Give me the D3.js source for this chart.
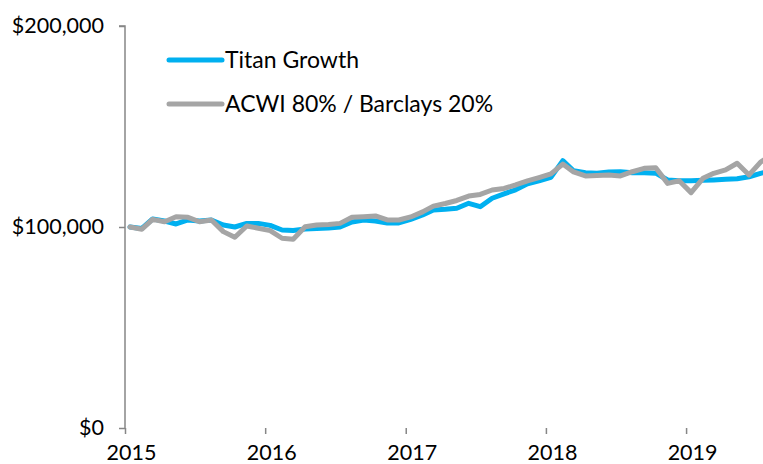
<!DOCTYPE html>
<html>
<head>
<meta charset="utf-8">
<script src="https://cdn.jsdelivr.net/npm/d3@7"></script>
<style>
  html, body { margin: 0; padding: 0; background: #fff; }
  svg { display: block; }
</style>
</head>
<body>
<svg id="chart" width="763" height="464"></svg>
<script>
// ---- data ----
const months = [
  "2015-01","2015-02","2015-03","2015-04","2015-05","2015-06","2015-07","2015-08","2015-09","2015-10","2015-11","2015-12",
  "2016-01","2016-02","2016-03","2016-04","2016-05","2016-06","2016-07","2016-08","2016-09","2016-10","2016-11","2016-12",
  "2017-01","2017-02","2017-03","2017-04","2017-05","2017-06","2017-07","2017-08","2017-09","2017-10","2017-11","2017-12",
  "2018-01","2018-02","2018-03","2018-04","2018-05","2018-06","2018-07","2018-08","2018-09","2018-10","2018-11","2018-12",
  "2019-01","2019-02","2019-03","2019-04","2019-05","2019-06","2019-07","2019-08"
];
const titanGrowth = [
  100000, 99300, 104000, 103000, 101500, 103500, 103000, 103500, 101000, 100000, 101800, 101800,
  100800, 98500, 98300, 99000, 99200, 99500, 100000, 102500, 103500, 103000, 102000, 102000,
  103800, 106000, 108500, 108800, 109300, 111800, 110100, 114300, 116500, 118500, 121500, 123000,
  124700, 133000, 128000, 127000, 126700, 127400, 127500, 127000, 127000, 126800, 123400, 123000,
  123000, 123200, 123400, 123700, 124000, 125000, 126700, 128000
];
const acwiBarclays = [
  100000, 98900, 103800, 102600, 105100, 104800, 102600, 103500, 97700, 94900, 100500, 99400,
  98200, 94400, 93900, 100100, 101000, 101300, 101800, 104800, 105100, 105500, 103500, 103500,
  105000, 107500, 110400, 111700, 113200, 115400, 116200, 118400, 119200, 120900, 122900, 124600,
  126400, 131300, 127400, 125400, 125600, 125900, 125400, 127500, 129200, 129500, 121700, 123000,
  117100, 124200, 126700, 128400, 131700, 125900, 132300, 136000
];
const seriesNames = ["Titan Growth", "ACWI 80% / Barclays 20%"];
const seriesColors = ["#00B0F0", "#A5A5A5"];
const yTicks = [0, 100000, 200000];
const xTickYears = [2015, 2016, 2017, 2018, 2019];

// ---- layout ----
const W = 763, H = 464;
const mLeft = 125, mTop = 26, mBottom = 428;
const pxPerYear = 140.25;
const font = "Lato, 'Open Sans', sans-serif";

const svg = d3.select("#chart");
const parse = d3.timeParse("%Y-%m");
const dates = months.map(m => d3.timeDay.offset(parse(m), 13));

const x = d3.scaleTime()
  .domain([new Date(2015, 0, 1), new Date(2020, 0, 1)])
  .range([mLeft, mLeft + 5 * pxPerYear]);
const y = d3.scaleLinear().domain([0, 200000]).range([mBottom, mTop]);

const defs = svg.append("defs");
defs.append("clipPath").attr("id", "clip")
  .append("rect").attr("x", 0).attr("y", 0).attr("width", W).attr("height", H);
const sh = defs.append("filter").attr("id", "shadow")
  .attr("x", "-5%").attr("y", "-200%").attr("width", "110%").attr("height", "600%");
sh.append("feDropShadow").attr("dx", 0).attr("dy", 3).attr("stdDeviation", 3)
  .attr("flood-color", "#9fb3c8").attr("flood-opacity", 0.6);

const axisColor = "#868686";

// Y axis
const yAxis = d3.axisLeft(y).tickValues(yTicks).tickSize(6).tickPadding(15)
  .tickFormat(d => "$" + d3.format(",")(d));
const gy = svg.append("g").attr("transform", `translate(${mLeft},0)`).call(yAxis);
gy.select(".domain").attr("stroke", axisColor).attr("stroke-width", 1.5)
  .attr("d", `M-6,${mTop}H0V${mBottom}`);
gy.selectAll(".tick line").attr("stroke", axisColor).attr("stroke-width", 1.5);
gy.selectAll(".tick text").attr("fill", "#000").style("font-family", font).style("font-size", "21.5px");

// X axis
const xAxis = d3.axisBottom(x)
  .tickValues(xTickYears.map(yr => new Date(yr, 0, 1)))
  .tickSize(6).tickPadding(11)
  .tickFormat(d3.timeFormat("%Y"));
const gx = svg.append("g").attr("transform", `translate(0,${mBottom})`).call(xAxis);
gx.select(".domain").attr("stroke", axisColor).attr("stroke-width", 1.5)
  .attr("d", `M${mLeft},0H${W}`).attr("filter", "url(#shadow)");
gx.selectAll(".tick line").attr("stroke", axisColor).attr("stroke-width", 1.5);
gx.selectAll(".tick text").attr("fill", "#000").attr("dx", 6)
  .style("font-family", font).style("font-size", "21.5px");

// Lines
const line = d3.line()
  .x((d, i) => x(dates[i]))
  .y(d => y(d));
const plot = svg.append("g").attr("clip-path", "url(#clip)");
[titanGrowth, acwiBarclays].forEach((vals, k) => {
  plot.append("path")
    .datum(vals)
    .attr("fill", "none")
    .attr("stroke", seriesColors[k])
    .attr("stroke-width", 5)
    .attr("stroke-linejoin", "round")
    .attr("stroke-linecap", "round")
    .attr("d", line);
});

// Legend
const legend = svg.append("g");
seriesNames.forEach((name, k) => {
  const ly = 60 + k * 44;
  legend.append("line")
    .attr("x1", 169).attr("x2", 222).attr("y1", ly).attr("y2", ly)
    .attr("stroke", seriesColors[k]).attr("stroke-width", 5).attr("stroke-linecap", "round");
  legend.append("text")
    .attr("x", 225).attr("y", ly).attr("dy", "0.35em")
    .style("font-family", font).style("font-size", "23px").attr("fill", "#000")
    .text(name);
});
</script>
</body>
</html>
